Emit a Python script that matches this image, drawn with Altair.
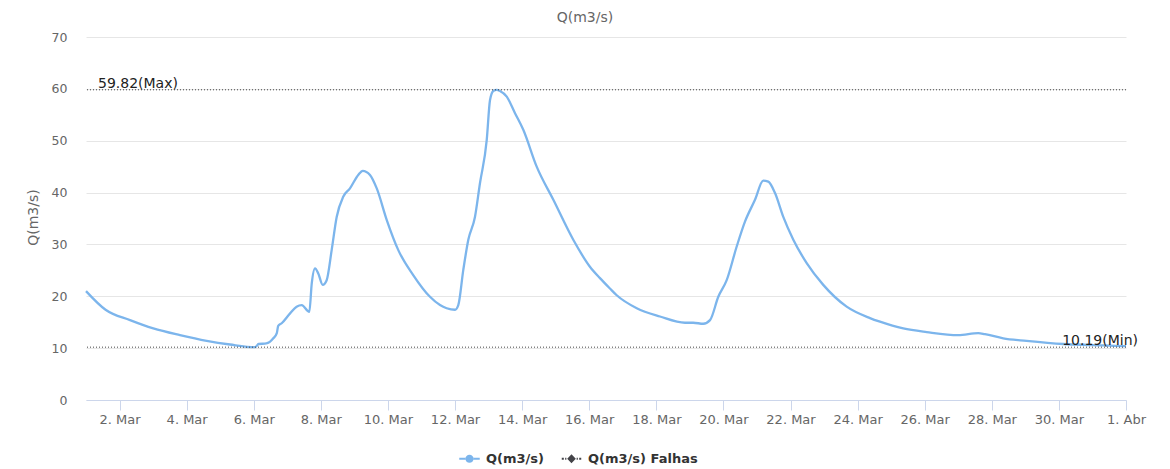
import altair as alt
import pandas as pd

# ---- data ----
times = [
    "2019-03-01T00:00", "2019-03-01T14:00", "2019-03-02T07:30", "2019-03-03T00:10",
    "2019-03-03T19:15", "2019-03-04T14:20", "2019-03-05T07:00", "2019-03-06T01:00",
    "2019-03-06T03:30", "2019-03-06T09:00", "2019-03-06T14:00", "2019-03-06T16:30",
    "2019-03-06T17:30", "2019-03-06T20:00", "2019-03-07T02:00", "2019-03-07T06:40",
    "2019-03-07T10:20", "2019-03-07T15:45", "2019-03-07T17:30", "2019-03-07T19:50",
    "2019-03-07T22:10", "2019-03-08T01:20", "2019-03-08T04:10", "2019-03-08T07:45",
    "2019-03-08T11:20", "2019-03-08T16:00", "2019-03-08T20:50", "2019-03-09T02:45",
    "2019-03-09T06:00", "2019-03-09T11:10", "2019-03-09T16:00", "2019-03-09T23:10",
    "2019-03-10T07:25", "2019-03-10T18:05", "2019-03-11T06:05", "2019-03-11T13:15",
    "2019-03-11T18:00", "2019-03-12T00:00", "2019-03-12T02:20", "2019-03-12T05:55",
    "2019-03-12T09:30", "2019-03-12T14:15", "2019-03-12T17:50", "2019-03-12T22:40",
    "2019-03-13T01:00", "2019-03-13T03:20", "2019-03-13T05:45", "2019-03-13T08:10",
    "2019-03-13T13:00", "2019-03-13T18:55", "2019-03-14T00:50", "2019-03-14T10:25",
    "2019-03-14T22:20", "2019-03-15T12:35", "2019-03-16T00:30", "2019-03-16T07:40",
    "2019-03-16T14:50", "2019-03-16T19:40", "2019-03-17T10:00", "2019-03-18T02:35",
    "2019-03-18T20:30", "2019-03-19T02:25", "2019-03-19T09:35", "2019-03-19T14:25",
    "2019-03-19T20:20", "2019-03-20T02:20", "2019-03-20T09:30", "2019-03-20T15:25",
    "2019-03-20T22:35", "2019-03-21T04:30", "2019-03-21T08:05", "2019-03-21T12:55",
    "2019-03-21T18:50", "2019-03-22T02:00", "2019-03-22T11:35", "2019-03-22T23:25",
    "2019-03-23T16:10", "2019-03-24T08:50", "2019-03-24T16:00", "2019-03-25T08:40",
    "2019-03-26T01:25", "2019-03-27T00:00", "2019-03-27T14:20", "2019-03-27T19:05",
    "2019-03-28T08:10", "2019-03-29T00:55", "2019-03-30T03:05", "2019-03-31T00:35",
    "2019-03-31T22:00", "2019-04-01T00:00",
]
q_values = [
    21.0, 17.4, 15.4, 13.8,
    12.5, 11.4, 10.7, 10.19,
    10.8, 10.9, 11.9, 12.9,
    14.3, 14.8, 16.7, 18.0,
    18.3, 17.0, 22.5, 25.4,
    24.4, 22.2, 23.1, 28.9,
    35.3, 39.2, 40.8, 43.4,
    44.2, 43.4, 40.8, 34.7,
    28.9, 24.1, 19.9, 18.3,
    17.7, 17.4, 18.3, 25.1,
    30.9, 35.3, 41.8, 50.1,
    57.8, 59.6, 59.82, 59.6,
    58.5, 55.3, 52.1, 45.0,
    38.6, 30.9, 25.7, 23.5,
    21.5, 20.2, 17.7, 16.1,
    14.9, 14.9, 14.7, 15.4,
    19.9, 23.1, 29.6, 34.4,
    38.6, 42.3, 42.1, 39.9,
    35.3, 30.9, 26.4, 22.2,
    18.0, 15.8, 15.1, 13.8,
    13.1, 12.5, 12.9, 12.7,
    11.9, 11.4, 10.8, 10.6,
    10.4, 10.4,
]

limit_values = [59.82, 10.19]
limit_labels = ["59.82(Max)", "10.19(Min)"]

march_tick_days = [2, 4, 6, 8, 10, 12, 14, 16, 18, 20, 22, 24, 26, 28, 30]
april_tick_days = [1]
month_labels = ["Mar", "Abr"]

y_ticks = [0, 10, 20, 30, 40, 50, 60, 70]

legend_series = ["Q(m3/s)", "Q(m3/s) Falhas"]
legend_colors = ["#7cb5ec", "#434348"]

# ---- styling ----
FONT = "DejaVu Sans"
LINE_COLOR = "#7cb5ec"

circle_symbol = ("M-1,-0.1L-0.38,-0.1L-0.38,0.1L-1,0.1Z "
                 "M0.38,-0.1L1,-0.1L1,0.1L0.38,0.1Z "
                 "M-0.4,0A0.4,0.4,0,1,0,0.4,0A0.4,0.4,0,1,0,-0.4,0Z")
diamond_symbol = ("M-0.95,-0.1L-0.75,-0.1L-0.75,0.1L-0.95,0.1Z "
                  "M-0.62,-0.1L-0.5,-0.1L-0.5,0.1L-0.62,0.1Z "
                  "M0.5,-0.1L0.62,-0.1L0.62,0.1L0.5,0.1Z "
                  "M0.75,-0.1L0.95,-0.1L0.95,0.1L0.75,0.1Z "
                  "M0,-0.45L0.42,0L0,0.45L-0.42,0Z")
legend_shapes = [circle_symbol, diamond_symbol]

df = pd.DataFrame({"time": times, "q": q_values})
limits_df = pd.DataFrame({"q": limit_values, "label": limit_labels})
legend_df = pd.DataFrame({"serie": legend_series, "time": [None, None], "q": [None, None]})

tick_values = ([alt.DateTime(year=2019, month=3, date=d) for d in march_tick_days]
               + [alt.DateTime(year=2019, month=4, date=d) for d in april_tick_days])

label_expr = ("timeFormat(datum.value, '%-d') + '. ' + (month(datum.value) == 2 ? '"
              + month_labels[0] + "' : '" + month_labels[1] + "')")

x_scale = alt.Scale(domain=[alt.DateTime(year=2019, month=3, date=1),
                            alt.DateTime(year=2019, month=4, date=1)], nice=False)
y_scale = alt.Scale(domain=[0, 70], nice=False)

x_axis = alt.Axis(values=tick_values, labelExpr=label_expr, title=None, grid=False,
                  domainColor="#ccd6eb", tickColor="#ccd6eb", tickSize=10,
                  labelPadding=3, labelColor="#666666", labelFontSize=13,
                  labelFont=FONT, labelFlush=False, labelOverlap=False)
y_axis = alt.Axis(values=y_ticks, title="Q(m3/s)", grid=True, gridColor="#e6e6e6",
                  ticks=False, tickSize=0, domain=False, labelPadding=19,
                  labelColor="#666666", labelFontSize=12.5, labelFont=FONT,
                  titleFont=FONT, titleFontSize=14, titleFontWeight="normal",
                  titleColor="#666666", titleX=-53, titleY=180, titleAngle=-90,
                  titleAlign="center", titleBaseline="middle")

X = lambda: alt.X("time:T", scale=x_scale, axis=x_axis)
Y = lambda: alt.Y("q:Q", scale=y_scale, axis=y_axis)

line = alt.Chart(df).mark_line(color=LINE_COLOR, strokeWidth=2.3, interpolate="monotone").encode(
    x=X(), y=Y(),
)

rules = alt.Chart(limits_df).mark_rule(color="#444444", strokeDash=[1, 2], strokeWidth=1).encode(
    y=Y(),
)

max_text = alt.Chart(limits_df).transform_filter(alt.datum.q > 30).mark_text(
    align="left", baseline="alphabetic", dy=-2, fontSize=14, font=FONT, color="#222222"
).encode(x=alt.value(12), y=Y(), text="label:N")

min_text = alt.Chart(limits_df).transform_filter(alt.datum.q < 30).mark_text(
    align="right", baseline="alphabetic", dy=-2, fontSize=14, font=FONT, color="#222222"
).encode(x=alt.value(1052), y=Y(), text="label:N")

leg = alt.Legend(title=None, orient="none", legendX=373, legendY=411,
                 direction="horizontal", columns=2, symbolSize=420,
                 symbolStrokeWidth=0, symbolOpacity=1, labelFont=FONT,
                 labelFontSize=13, labelFontWeight="bold", labelColor="#333333",
                 labelOffset=6, columnPadding=16, padding=0)

legend_layer = alt.Chart(legend_df).mark_point(filled=True, opacity=0).encode(
    x=X(), y=Y(),
    color=alt.Color("serie:N", scale=alt.Scale(domain=legend_series, range=legend_colors), legend=leg),
    shape=alt.Shape("serie:N", scale=alt.Scale(domain=legend_series, range=legend_shapes), legend=leg),
)

chart = alt.layer(line, rules, max_text, min_text, legend_layer).properties(
    width=1040,
    height=363,
    padding={"left": 78, "top": 29, "right": 28, "bottom": 68},
    autosize=alt.AutoSizeParams(type="none"),
    view=alt.ViewBackground(stroke="transparent", strokeWidth=0),
    title=alt.TitleParams("Q(m3/s)", anchor="middle", frame="group", dx=-21, offset=6,
                          fontSize=14, fontWeight="normal", color="#666666", font=FONT),
).configure_view(stroke="transparent", strokeWidth=0, strokeOpacity=0).configure_axisX(
    grid=False
).configure(background="white", style={"cell": {"stroke": "transparent", "strokeWidth": 0}})

chart.save("out.html", embed_options={"renderer": "svg", "actions": False})
